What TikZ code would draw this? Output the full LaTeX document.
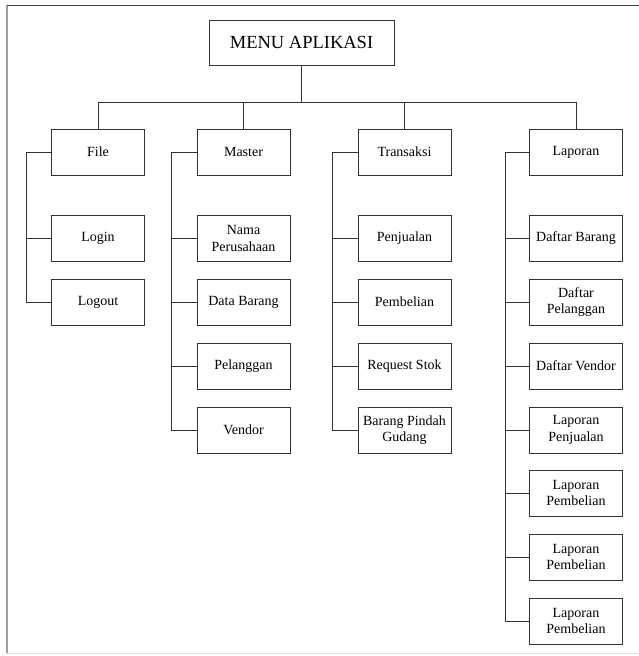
\documentclass[tikz,border=0pt]{standalone}
\usepackage{fontspec}
\setmainfont{Liberation Serif}
\begin{document}
\begin{tikzpicture}[x=1pt,y=1pt,
  menubox/.style={draw=black!80,line width=1pt,rectangle,minimum width=93pt,minimum height=46pt,
    inner sep=0pt,align=center,font=\fontsize{14}{16.5}\selectfont},
  link/.style={draw=black!80,line width=1pt}]
\useasboundingbox (0,0) rectangle (639,-656);
% page frame
\draw[gray!75,line width=1.6pt] (7,-5) -- (7,-653);
\draw[black!75,line width=1pt] (7,-5) -- (639,-5);
\draw[gray!25,line width=1pt] (7,-653) -- (639,-653);

% root
\node[menubox,minimum width=185pt,minimum height=45pt,font=\fontsize{18.5}{20}\selectfont] (root) at (301.5,-42.5) {MENU APLIKASI};

% main menus
\node[menubox] (file) at (98,-152) {File};
\node[menubox] (master) at (243.5,-152) {Master};
\node[menubox] (trans) at (404.5,-152) {Transaksi};
\node[menubox] (lap) at (576,-152) {Laporan};

% File
\node[menubox] (login) at (98,-238.5) {Login};
\node[menubox] (logout) at (98,-302) {Logout};

% Master
\node[menubox] (m1) at (243.5,-238.5) {Nama\\Perusahaan};
\node[menubox] (m2) at (243.5,-302) {Data Barang};
\node[menubox] (m3) at (243.5,-366) {Pelanggan};
\node[menubox] (m4) at (243.5,-430) {Vendor};

% Transaksi
\node[menubox] (t1) at (404.5,-238.5) {Penjualan};
\node[menubox] (t2) at (404.5,-302) {Pembelian};
\node[menubox] (t3) at (404.5,-366) {Request Stok};
\node[menubox] (t4) at (404.5,-430) {Barang Pindah\\Gudang};

% Laporan
\node[menubox] (l1) at (576,-238.5) {Daftar Barang};
\node[menubox] (l2) at (576,-302) {Daftar\\Pelanggan};
\node[menubox] (l3) at (576,-366) {Daftar Vendor};
\node[menubox] (l4) at (576,-430) {Laporan\\Penjualan};
\node[menubox] (l5) at (576,-493) {Laporan\\Pembelian};
\node[menubox] (l6) at (576,-557) {Laporan\\Pembelian};
\node[menubox] (l7) at (576,-621) {Laporan\\Pembelian};

% top bus
\coordinate (bus) at (0,-102);
\draw[link] (root.south) -- (root.south |- bus);
\draw[link] (file.north) -- (file.north |- bus) -- (lap.north |- bus) -- (lap.north);
\draw[link] (master.north) -- (master.north |- bus);
\draw[link] (trans.north) -- (trans.north |- bus);

% spines
\draw[link] (file.west) -- ++(-25,0) |- (logout.west);
\draw[link] (login.west) -- ++(-25,0);

\draw[link] (master.west) -- ++(-25,0) |- (m4.west);
\foreach \n in {m1,m2,m3} \draw[link] (\n.west) -- ++(-25,0);

\draw[link] (trans.west) -- ++(-25,0) |- (t4.west);
\foreach \n in {t1,t2,t3} \draw[link] (\n.west) -- ++(-25,0);

\draw[link] (lap.west) -- ++(-24,0) |- (l7.west);
\foreach \n in {l1,l2,l3,l4,l5,l6} \draw[link] (\n.west) -- ++(-24,0);
\end{tikzpicture}
\end{document}
